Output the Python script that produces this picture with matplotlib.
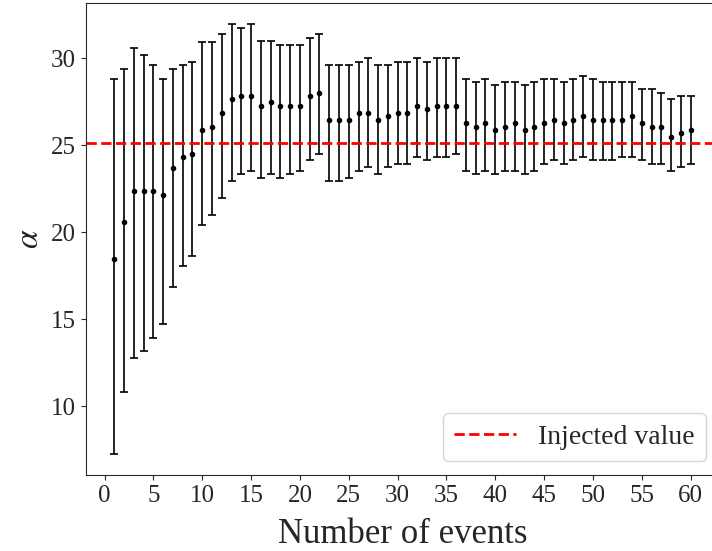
import numpy as np
import matplotlib
matplotlib.use("Agg")
import matplotlib.pyplot as plt
import seaborn as sns

sns.set_style("ticks")
plt.rcParams['font.family'] = ['Liberation Serif', 'DejaVu Serif']
plt.rcParams['mathtext.fontset'] = 'stix'

# number of events
n_events = list(range(1, 61))

# median estimate of alpha for each number of events
alpha_med = [18.45, 20.59, 22.36, 22.36, 22.36, 22.16, 23.71, 24.31, 24.50, 25.88,
             26.07, 26.86, 27.64, 27.83, 27.83, 27.24, 27.45, 27.24, 27.24, 27.24,
             27.83, 28.02, 26.45, 26.45, 26.45, 26.86, 26.86, 26.45, 26.67, 26.86,
             26.86, 27.24, 27.05, 27.24, 27.24, 27.24, 26.26, 26.07, 26.26, 25.88,
             26.07, 26.26, 25.88, 26.07, 26.26, 26.45, 26.26, 26.45, 26.67, 26.45,
             26.45, 26.45, 26.45, 26.67, 26.26, 26.07, 26.07, 25.48, 25.69, 25.88]

# upper / lower bounds of the credible interval
alpha_hi = [28.81, 29.40, 30.57, 30.19, 29.60, 28.81, 29.40, 29.60, 29.79, 30.95,
            30.95, 31.36, 31.95, 31.74, 31.95, 30.98, 30.98, 30.78, 30.78, 30.78,
            31.17, 31.36, 29.60, 29.60, 29.60, 29.79, 30.00, 29.60, 29.60, 29.79,
            29.79, 30.00, 29.79, 30.00, 30.00, 30.00, 28.81, 28.62, 28.81, 28.43,
            28.62, 28.62, 28.43, 28.62, 28.81, 28.81, 28.62, 28.81, 29.00, 28.81,
            28.62, 28.62, 28.62, 28.62, 28.22, 28.22, 28.02, 27.64, 27.83, 27.83]

alpha_lo = [7.28, 10.80, 12.76, 13.16, 13.94, 14.73, 16.87, 18.05, 18.64, 20.40,
            21.00, 21.97, 22.95, 23.35, 23.52, 23.14, 23.33, 23.14, 23.33, 23.52,
            24.12, 24.50, 22.93, 22.93, 23.14, 23.52, 23.74, 23.33, 23.74, 23.93,
            23.93, 24.31, 24.12, 24.31, 24.31, 24.50, 23.52, 23.33, 23.52, 23.33,
            23.52, 23.52, 23.33, 23.52, 23.93, 24.12, 23.93, 24.12, 24.31, 24.12,
            24.12, 24.12, 24.31, 24.31, 24.12, 23.93, 23.93, 23.52, 23.74, 23.93]

injected = 25.1

med = np.array(alpha_med)
yerr = [med - np.array(alpha_lo), np.array(alpha_hi) - med]

fig = plt.figure(figsize=(7.12, 5.51), dpi=100)
ax = fig.add_axes([0.1201, 0.1379, 0.8903, 0.8572])

ax.errorbar(n_events, alpha_med, yerr=yerr, fmt='o', color='k', ms=3,
            elinewidth=1.2, capsize=3, capthick=1.2)
ax.axhline(injected, color='red', ls='--', lw=2, label='Injected value')

ax.set_xticks(range(0, 61, 5))
ax.tick_params(labelsize=18)
ax.set_xlabel('Number of events', fontsize=25, labelpad=8)
ax.set_ylabel(r'$\alpha$', fontsize=24)
ax.legend(loc='lower right', fontsize=20, handlelength=2.2)

fig.savefig('out.png', dpi=100)
